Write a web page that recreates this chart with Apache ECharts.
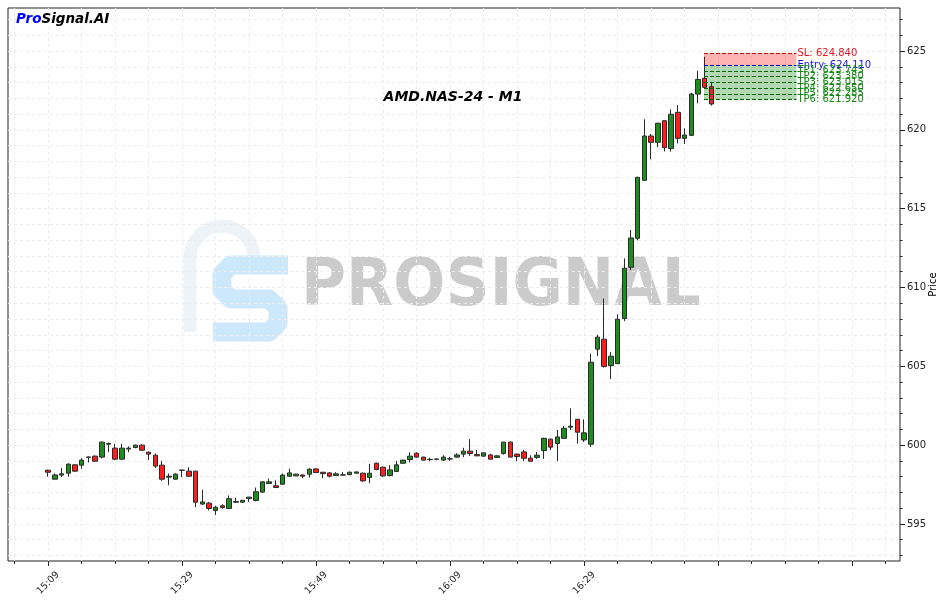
<!DOCTYPE html>
<html><head><meta charset="utf-8">
<script src="https://cdn.jsdelivr.net/npm/echarts@6/dist/echarts.min.js"></script>
<style>html,body{margin:0;padding:0;background:#fff}#c{width:947px;height:603px}</style>
</head><body><div id="c"></div>
<script>
// ---- data (minute index 0 = 15:09) ----
const startMinute = 15 * 60 + 9;
const opens  = [598.41,597.84,598.10,598.22,598.75,598.73,599.22,599.30,599.24,600.06,
                599.81,599.11,599.75,599.85,600.00,599.55,599.36,598.73,597.97,597.84,
                598.40,598.35,598.35,596.26,596.32,595.86,596.15,595.98,596.38,596.38,
                596.61,596.49,597.02,597.57,597.42,597.52,598.03,598.05,598.11,598.16,
                598.49,598.28,598.24,598.07,598.10,598.13,598.22,598.22,597.95,598.85,
                598.60,598.07,598.33,598.85,599.09,599.49,599.24,599.08,599.10,599.05,
                599.12,599.24,599.43,599.62,599.40,599.30,599.38,599.22,599.47,600.19,
                599.43,599.57,599.17,599.22,599.66,600.38,600.10,600.43,601.14,601.64,
                600.33,600.06,606.09,606.72,605.04,605.17,608.03,611.28,613.12,616.80,
                619.61,619.21,620.58,618.81,621.11,619.46,619.65,622.27,623.27,622.74];
const closes = [598.28,598.11,598.18,598.79,598.35,599.05,599.25,598.98,600.19,600.10,
                599.11,599.81,599.81,600.00,599.68,599.43,598.67,597.84,598.03,598.16,
                598.42,598.03,596.38,596.40,595.98,596.06,596.04,596.60,596.42,596.50,
                596.70,597.04,597.67,597.67,597.31,598.10,598.24,598.16,598.03,598.47,
                598.26,598.19,598.03,598.18,598.12,598.28,598.30,597.73,598.22,598.45,
                598.05,598.43,598.75,599.05,599.30,599.24,599.05,599.10,599.12,599.24,
                599.14,599.38,599.62,599.47,599.32,599.51,599.11,599.32,600.19,599.24,
                599.28,599.17,598.98,599.36,600.43,599.87,600.52,601.07,601.20,600.82,
                600.78,605.26,606.85,604.99,605.64,607.99,611.22,613.14,616.99,619.61,
                619.21,620.42,618.87,620.99,619.46,619.67,622.27,623.20,622.70,621.64];
const lows   = [598.00,597.82,597.97,598.00,598.31,598.50,598.90,598.95,599.17,599.55,
                599.05,599.07,599.55,599.80,599.63,599.06,598.55,597.73,597.46,597.80,
                597.98,597.98,596.06,596.21,595.86,595.57,595.98,595.96,596.35,596.36,
                596.40,596.43,596.97,597.55,597.28,597.49,598.00,598.03,597.90,597.95,
                598.24,597.90,597.95,598.05,598.05,598.09,598.20,597.67,597.59,598.41,
                597.98,598.01,598.29,598.83,598.90,599.20,599.03,598.98,599.07,599.00,
                599.00,599.20,599.24,599.32,599.30,599.28,599.09,599.20,599.40,599.22,
                598.98,598.98,598.96,599.13,599.13,599.68,598.98,600.40,600.96,600.10,
                600.20,599.87,605.65,604.92,604.20,605.15,607.87,611.10,612.99,616.78,
                618.13,618.90,618.63,618.62,619.14,619.10,619.60,621.68,622.60,621.54];
const highs  = [598.45,598.20,598.54,598.85,598.79,599.17,599.27,599.35,600.23,600.17,
                600.08,600.08,599.92,600.03,600.05,599.60,599.47,599.00,598.20,598.22,
                598.44,598.60,598.37,597.16,596.40,596.15,596.25,596.81,596.67,596.52,
                596.72,597.31,597.69,597.88,597.77,598.20,598.50,598.18,598.12,598.54,
                598.54,598.30,598.28,598.28,598.30,598.32,598.32,598.26,598.81,598.89,
                598.64,598.73,599.00,599.07,599.55,599.55,599.26,599.20,599.15,599.36,
                599.26,599.49,599.83,600.38,599.70,599.53,599.45,599.34,600.21,600.23,
                599.45,599.70,599.36,599.57,600.47,600.41,600.96,601.22,602.34,601.66,
                601.64,605.80,607.00,609.30,605.90,608.30,611.85,613.65,617.02,620.67,
                619.74,620.45,620.60,621.30,621.58,620.10,622.35,623.75,624.64,623.05];

// signal levels
const levelNames  = ["SL", "Entry", "TP1", "TP2", "TP3", "TP4", "TP5", "TP6"];
const levelValues = [624.840, 624.110, 623.745, 623.380, 623.015, 622.650, 622.285, 621.920];
const signalStart = 97.9, signalEnd = 111.7;   // minute index span of the signal box

// axis ticks
const xMajorTicks = [0, 20, 40, 60, 80, 100, 120];
const xLabelTicks = [0, 20, 40, 60, 80];
const xMinorTicks = [-5,0,5,10,15,20,25,30,35,40,45,50,55,60,65,70,75,80,85,90,95,100,105,110,115,120,125];
const yMajorTicks = [595, 600, 605, 610, 615, 620, 625];
const yMinorTicks = [593,594,595,596,597,598,599,600,601,602,603,604,605,606,607,608,609,610,
                     611,612,613,614,615,616,617,618,619,620,621,622,623,624,625,626,627];

function fmtTime(n) {
  const m = startMinute + Math.round(n);
  return String(Math.floor(m / 60)).padStart(2, '0') + ':' + String(m % 60).padStart(2, '0');
}

const candles = opens.map((o, i) => [i, o, closes[i], lows[i], highs[i]]);
const FONT = '"DejaVu Sans", sans-serif';
const levelColors = ['#e8141e', '#1414e8', '#118811', '#118811', '#118811', '#118811', '#118811', '#118811'];
const lineColors  = ['#d40000', '#0000cc', '#006400', '#006400', '#006400', '#006400', '#006400', '#006400'];
const gridLine = { show: true, lineStyle: { color: '#ececec', type: [3, 3], width: 1 } };

const chart = echarts.init(document.getElementById('c'), null, {renderer: 'canvas'});
chart.setOption({
  animation: false,
  backgroundColor: '#ffffff',
  title: [
    { text: '{a|Pro}{b|Signal.AI}', left: 16, top: 12, padding: 0,
      textStyle: { rich: {
        a: { color: '#0000ff', fontWeight: 'bold', fontStyle: 'italic', fontSize: 13.5, fontFamily: FONT },
        b: { color: '#000000', fontWeight: 'bold', fontStyle: 'italic', fontSize: 13.5, fontFamily: FONT } } } },
    { text: 'AMD.NAS-24 - M1', left: 453, top: 90, textAlign: 'center', padding: 0,
      textStyle: { color: '#000', fontWeight: 'bold', fontStyle: 'italic', fontSize: 14, fontFamily: FONT } }
  ],
  graphic: [
    { type: 'line', z: -1, silent: true,
      shape: { x1: 190, y1: 332, x2: 190, y2: 258 },
      style: { stroke: '#eef3f8', lineWidth: 13 } },
    { type: 'arc', z: -1, silent: true,
      shape: { cx: 222, cy: 258, r: 32, startAngle: Math.PI, endAngle: 0, clockwise: true },
      style: { fill: null, stroke: '#eef3f8', lineWidth: 13 } },
    { type: 'polyline', z: -1, silent: true,
      shape: { points: [[288,265],[231,265],[222,274],[222,290],[231,299],[269,299],[278,308],[278,323],[269,332],[213,332]] },
      style: { fill: null, stroke: '#cde7fb', lineWidth: 19, lineJoin: 'round' } },
    { type: 'text', z: -1, silent: true, x: 301, y: 288, scaleX: 0.93,
      style: { text: 'PROSIGNAL', font: 'bold 66px "DejaVu Sans"', fill: '#cbcbcb', verticalAlign: 'middle', align: 'left' } }
  ],
  grid: { left: 8, right: 47, top: 8, bottom: 42, show: true, borderColor: '#222', borderWidth: 1,
          backgroundColor: 'transparent', containLabel: false, outerBoundsMode: 'none' },
  xAxis: [
    { type: 'value', min: -6, max: 127.16, position: 'bottom',
      axisLine: { show: false, onZero: false },
      axisTick: { show: true, length: 5, lineStyle: { color: '#222' }, customValues: xMajorTicks },
      axisLabel: { show: true, rotate: 45, fontSize: 9.5, color: '#222', fontFamily: FONT, margin: 22,
                   align: 'center', verticalAlign: 'middle',
                   customValues: xLabelTicks, formatter: v => fmtTime(v) },
      splitLine: { show: false } },
    { type: 'value', min: -6, max: 127.16, position: 'bottom',
      axisLine: { show: false, onZero: false },
      axisTick: { show: true, length: 3, lineStyle: { color: '#222' }, customValues: xMinorTicks },
      axisLabel: { show: false },
      splitLine: gridLine }
  ],
  yAxis: [
    { type: 'value', min: 592.65, max: 627.73, position: 'right', scale: true,
      axisLine: { show: false, onZero: false },
      axisTick: { show: true, length: 5, lineStyle: { color: '#222' }, customValues: yMajorTicks },
      axisLabel: { show: true, fontSize: 10, color: '#222', fontFamily: FONT, margin: 7, customValues: yMajorTicks },
      splitLine: { show: false },
      name: 'Price', nameLocation: 'middle', nameRotate: 90, nameGap: 28, nameMoveOverlap: false,
      nameTextStyle: { fontSize: 10, color: '#000', fontFamily: FONT } },
    { type: 'value', min: 592.65, max: 627.73, position: 'right', scale: true,
      axisLine: { show: false, onZero: false },
      axisTick: { show: true, length: 2.5, lineStyle: { color: '#222' }, customValues: yMinorTicks },
      axisLabel: { show: false },
      splitLine: gridLine }
  ],
  series: [{
    type: 'candlestick',
    xAxisIndex: 0, yAxisIndex: 0,
    data: candles,
    encode: { x: 0, y: [1, 2, 3, 4] },
    barWidth: 5,
    itemStyle: { color: '#1e8c1e', color0: '#ff1c1c', borderColor: '#2a2a2a', borderColor0: '#2a2a2a', borderWidth: 1 },
    markArea: {
      silent: true,
      data: [
        [ { coord: [signalStart, levelValues[0]], itemStyle: { color: 'rgba(255,0,0,0.3)' } },
          { coord: [signalEnd, levelValues[1]] } ],
        [ { coord: [signalStart, levelValues[1]], itemStyle: { color: 'rgba(0,128,0,0.3)' } },
          { coord: [signalEnd, levelValues[levelValues.length - 1]] } ]
      ]
    },
    markLine: {
      silent: true, symbol: 'none', animation: false,
      data: levelValues.map((v, i) => [
        { coord: [signalStart, v],
          lineStyle: { color: lineColors[i], type: [4, 2], width: 1 },
          label: { show: true, position: 'end', distance: 1, formatter: levelNames[i] + ': ' + v.toFixed(3),
                   color: levelColors[i], fontSize: 10, fontFamily: FONT } },
        { coord: [signalEnd, v] }
      ])
    }
  }]
});
</script></body></html>
